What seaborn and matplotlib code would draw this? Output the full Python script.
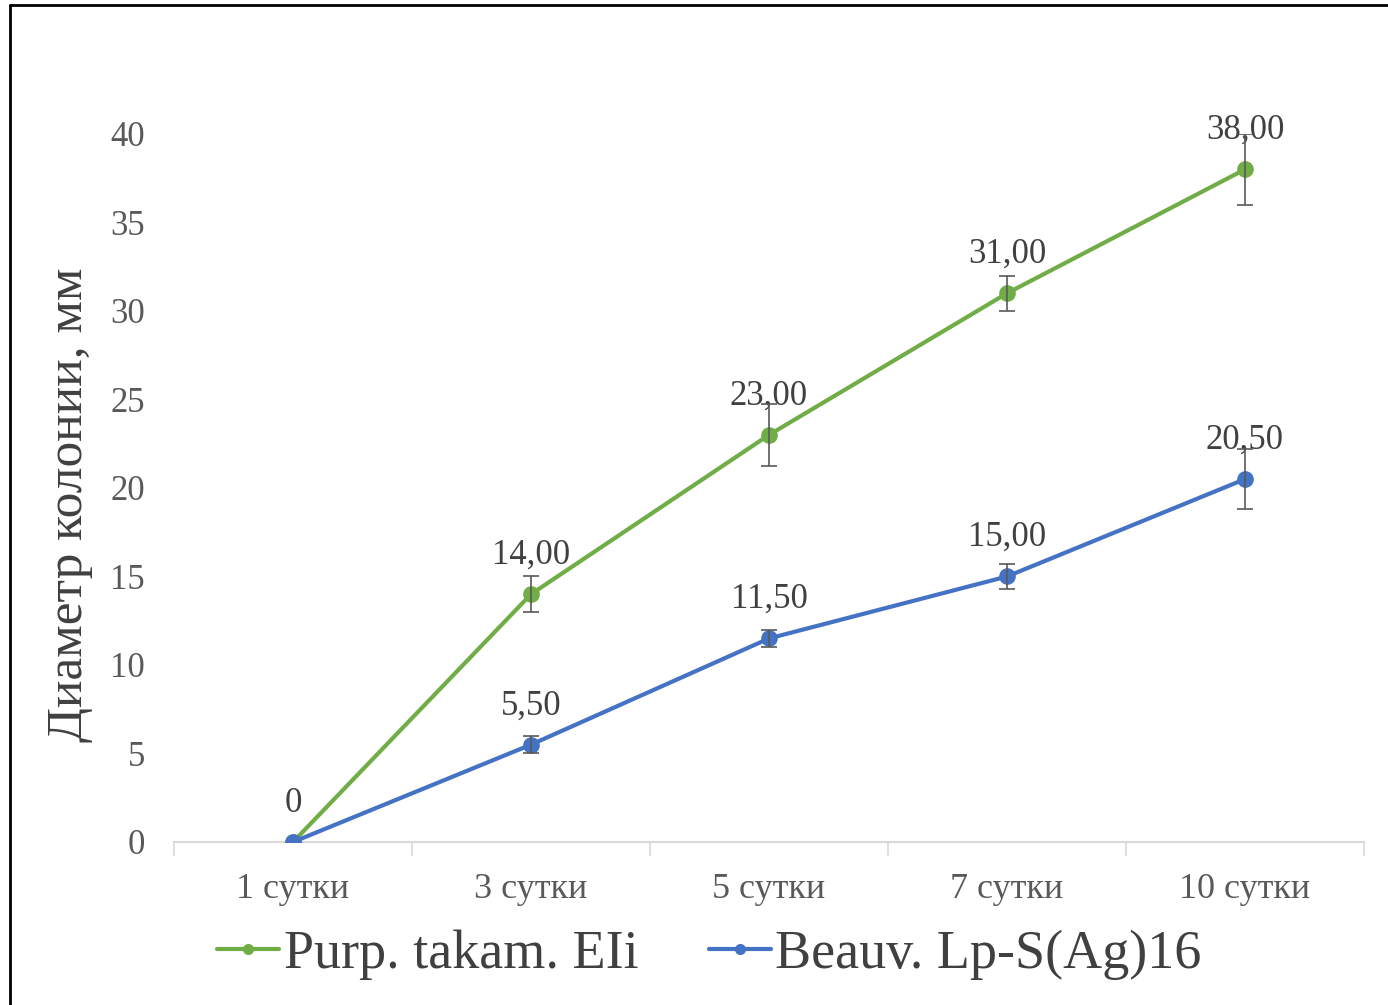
import pandas as pd
import matplotlib.pyplot as plt
import seaborn as sns
from matplotlib.lines import Line2D

# data
days = ['1 сутки', '3 сутки', '5 сутки', '7 сутки', '10 сутки']
purp_vals = [0, 14.0, 23.0, 31.0, 38.0]
purp_err = [0, 1.0, 1.75, 1.0, 2.0]
beauv_vals = [0, 5.5, 11.5, 15.0, 20.5]
beauv_err = [0, 0.5, 0.5, 0.7, 1.7]
series_names = ['Purp. takam. EIi', 'Beauv. Lp-S(Ag)16']
purp_labels = ['0', '14,00', '23,00', '31,00', '38,00']
beauv_labels = ['', '5,50', '11,50', '15,00', '20,50']

colors = {'Purp. takam. EIi': '#70AD47', 'Beauv. Lp-S(Ag)16': '#4472C4'}

sns.set_style('white')
plt.rcParams['font.family'] = ['Liberation Serif', 'DejaVu Serif']

df = pd.DataFrame({
    'pos': list(range(len(days))) * 2,
    'val': purp_vals + beauv_vals,
    'series': [series_names[0]] * len(days) + [series_names[1]] * len(days),
})

fig = plt.figure(figsize=(13.88, 10.05), dpi=100)
ax = fig.add_axes([0.1254, 0.1622, 0.8573, 0.7045])

sns.lineplot(data=df, x='pos', y='val', hue='series', palette=colors,
             marker='o', markersize=12, markeredgewidth=0, linewidth=3,
             legend=False, ax=ax, zorder=3)

# error bars
for vals, errs in [(purp_vals, purp_err), (beauv_vals, beauv_err)]:
    pos = [i for i, e in enumerate(errs) if e > 0]
    ax.errorbar(pos, [vals[i] for i in pos], yerr=[errs[i] for i in pos],
                fmt='none', ecolor='#595959', elinewidth=1.2, capsize=6,
                capthick=1.2, zorder=4)

# data labels
for vals, labels in [(purp_vals, purp_labels), (beauv_vals, beauv_labels)]:
    for i, (v, lab) in enumerate(zip(vals, labels)):
        if lab:
            ax.annotate(lab, (i, v), xytext=(0, 28), textcoords='offset points',
                        ha='center', va='center', fontsize=25, color='#404040',
                        annotation_clip=False)

ax.set_xlim(-0.5, 4.5)
ax.set_ylim(0, 40)
ax.set_yticks(range(0, 45, 5))
ax.set_xticks(range(len(days)))
ax.set_xticklabels(days)
ax.set_xticks([i - 0.5 for i in range(len(days) + 1)], minor=True)
ax.tick_params(axis='y', length=0, pad=21, labelsize=25, labelcolor='#595959')
ax.tick_params(axis='x', which='major', length=0, pad=22, labelsize=26,
               labelcolor='#595959')
ax.tick_params(axis='x', which='minor', length=10, width=1.2, color='#D9D9D9',
               direction='out', bottom=True)
for s in ['top', 'right', 'left']:
    ax.spines[s].set_visible(False)
ax.spines['bottom'].set_color('#D9D9D9')
ax.spines['bottom'].set_linewidth(1.5)
ax.set_xlabel('')
ax.set_ylabel('Диаметр колонии, мм', fontsize=37, color='#404040')
ax.yaxis.set_label_coords(-0.068, 0.476)

handles = [Line2D([], [], color=colors[n], marker='o', markersize=8,
                  markeredgewidth=0, linewidth=3) for n in series_names]
fig.legend(handles, series_names, loc='center', bbox_to_anchor=(0.511, 0.05),
           ncol=2, frameon=False, fontsize=39, labelcolor='#404040',
           handlelength=1.15, handletextpad=0.08, columnspacing=1.3)

# frame edges visible in the reference screenshot
fig.add_artist(Line2D([0.007, 1.0], [0.995, 0.995], color='black', lw=2,
                      transform=fig.transFigure))
fig.add_artist(Line2D([0.007, 0.007], [0.0, 0.995], color='black', lw=2,
                      transform=fig.transFigure))

fig.savefig('out.png', dpi=100)
plt.close('all')
